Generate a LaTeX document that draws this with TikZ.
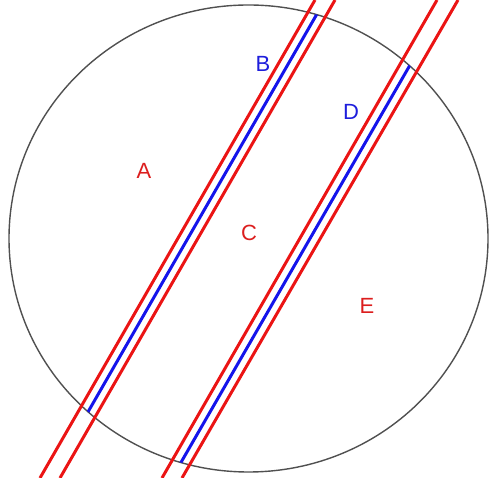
\documentclass[tikz,border=0pt]{standalone}
\usepackage{fontspec}
\setmainfont{Liberation Sans}
\definecolor{lred}{RGB}{235,20,20}
\definecolor{lblue}{RGB}{20,20,235}
\definecolor{tred}{RGB}{220,30,30}
\definecolor{tblue}{RGB}{30,30,220}
\definecolor{cgray}{RGB}{80,80,80}
\begin{document}
\begin{tikzpicture}[x=1pt,y=1pt,
  redline/.style={draw=lred,line width=3pt},
  blueline/.style={draw=lblue,line width=3pt},
  lab/.style={font=\fontsize{22}{22}\selectfont,inner sep=0pt},
  ring/.style={draw=cgray,line width=1.4pt}]
\useasboundingbox (0,0) rectangle (489,478);
\coordinate (ctr) at (248.5,239.5);
\draw[ring] (ctr) ellipse [x radius=239.5, y radius=233.5];
% pair 1
\coordinate (r1a) at (40,0);  \coordinate (r1b) at (315,478);
\coordinate (r2a) at (60,0);  \coordinate (r2b) at (335,478);
\coordinate (b1a) at (50,0);  \coordinate (b1b) at (325,478);
% pair 2
\coordinate (r3a) at (162,0); \coordinate (r3b) at (437,478);
\coordinate (r4a) at (182,0); \coordinate (r4b) at (458,478);
\coordinate (b2a) at (172,0); \coordinate (b2b) at (447.5,478);
\begin{scope}
  \clip (ctr) ellipse [x radius=239.5, y radius=233.5];
  \draw[blueline] (b1a) -- (b1b);
  \draw[blueline] (b2a) -- (b2b);
\end{scope}
\draw[redline] (r1a) -- (r1b);
\draw[redline] (r2a) -- (r2b);
\draw[redline] (r3a) -- (r3b);
\draw[redline] (r4a) -- (r4b);
\node[lab,text=tred] (A) at (144,307) {A};
\node[lab,text=tblue] (B) at (263,414) {B};
\node[lab,text=tred] (C) at (249,245) {C};
\node[lab,text=tblue] (D) at (351,366) {D};
\node[lab,text=tred] (E) at (367,172) {E};
\end{tikzpicture}
\end{document}
